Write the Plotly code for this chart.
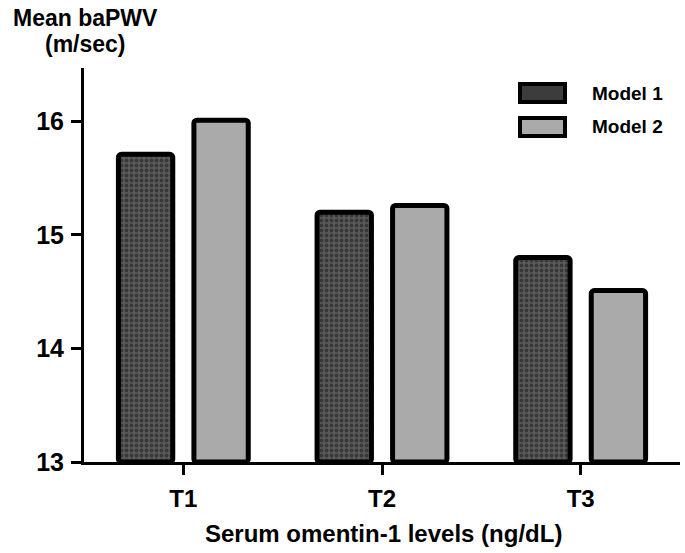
import plotly.graph_objects as go

categories = ["T1", "T2", "T3"]
model1 = [15.71, 15.20, 14.80]
model2 = [16.01, 15.26, 14.51]
series_names = ["Model 1", "Model 2"]
y_ticks = [13, 14, 15, 16]
y_title_lines = ["Mean baPWV", "(m/sec)"]
x_title = "Serum omentin-1 levels (ng/dL)"

FONT = "Liberation Sans, Arial, sans-serif"
L, R, T, B = 84, 5, 68, 91
W, H = 685, 553
PW, PH = W - L - R, H - T - B


def px(x):
    return (x - L) / PW


def py(y):
    return (H - B - y) / PH


fig = go.Figure()
fig.add_trace(go.Bar(
    x=categories, y=[v - 13 for v in model1], base=13, name=series_names[0],
    marker=dict(color="#555555",
                pattern=dict(shape=".", fgcolor="#151515", bgcolor="#5a5a5a", size=5, solidity=0.45),
                line=dict(color="black", width=5), cornerradius=3),
    showlegend=False,
))
fig.add_trace(go.Bar(
    x=categories, y=[v - 13 for v in model2], base=13, name=series_names[1],
    marker=dict(color="#aaaaaa", line=dict(color="black", width=5), cornerradius=3),
    showlegend=False,
))

fig.update_layout(
    width=W, height=H,
    margin=dict(l=L, r=R, t=T, b=B, autoexpand=False),
    plot_bgcolor="white", paper_bgcolor="white",
    barmode="group", bargap=0.24, bargroupgap=0.28,
    font=dict(family=FONT, color="black"),
    xaxis=dict(
        range=[-0.5, 2.5], showline=True, linecolor="black", linewidth=3,
        ticks="outside", ticklen=10, tickwidth=3, tickcolor="black",
        tickfont=dict(family=FONT, size=24, color="black", weight="bold"),
        ticklabelstandoff=3, showgrid=False, zeroline=False, automargin=False,
    ),
    yaxis=dict(
        range=[13, 16.47], tickvals=y_ticks, showline=True, linecolor="black", linewidth=3,
        ticks="outside", ticklen=10, tickwidth=3, tickcolor="black",
        tickfont=dict(family=FONT, size=25, color="black", weight="bold"),
        ticklabelstandoff=2, showgrid=False, zeroline=False, automargin=False,
    ),
)

# X-axis title
fig.add_annotation(text="<b>" + x_title + "</b>", xref="paper", yref="paper",
                   x=px(383), y=py(533), xanchor="center", yanchor="middle",
                   showarrow=False, font=dict(family=FONT, size=24, color="black"))

# Y-axis title (top-left, two lines)
for txt, ypix in zip(y_title_lines, [18, 44]):
    fig.add_annotation(text="<b>" + txt + "</b>", xref="paper", yref="paper",
                       x=px(85), y=py(ypix), xanchor="center", yanchor="middle",
                       showarrow=False, font=dict(family=FONT, size=23, color="black"))

# Custom legend
legend_fills = ["#3c3c3c", "#aaaaaa"]
legend_rows = [(84, 102), (118, 136)]
for name, fill, (top, bot) in zip(series_names, legend_fills, legend_rows):
    fig.add_shape(type="rect", xref="paper", yref="paper",
                  x0=px(520), x1=px(565), y0=py(bot), y1=py(top),
                  fillcolor=fill, line=dict(color="black", width=4))
    fig.add_annotation(text="<b>" + name + "</b>", xref="paper", yref="paper",
                       x=px(590), y=py((top + bot) / 2),
                       xanchor="left", yanchor="middle", showarrow=False,
                       font=dict(family=FONT, size=19, color="black"))

fig.write_html("out.html", config={"displayModeBar": False},
               post_script="document.body.style.margin='0';document.body.style.overflow='hidden';")
